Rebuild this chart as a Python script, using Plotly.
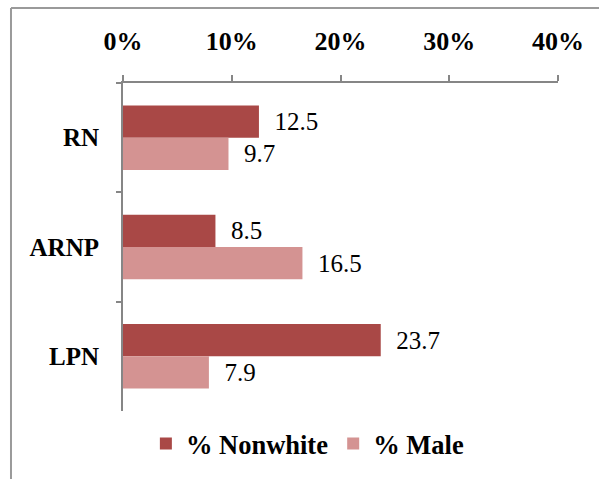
import plotly.graph_objects as go

categories = ["RN", "ARNP", "LPN"]
nonwhite = [12.5, 8.5, 23.7]
male = [9.7, 16.5, 7.9]
x_ticks = [0, 0.1, 0.2, 0.3, 0.4]

FONT = "Liberation Serif"
C1 = "#A94846"
C2 = "#D49392"
PAD = "\u00a0\u00a0"

fig = go.Figure()
fig.add_trace(go.Bar(
    y=categories, x=[v / 100 for v in nonwhite], orientation="h", name="% Nonwhite",
    marker=dict(color=C1, line=dict(width=0)),
    text=[PAD + f"{v:.1f}" for v in nonwhite], textposition="outside",
    textfont=dict(family=FONT, size=25, color="black"), cliponaxis=False,
    constraintext="none"))
fig.add_trace(go.Bar(
    y=categories, x=[v / 100 for v in male], orientation="h", name="% Male",
    marker=dict(color=C2, line=dict(width=0)),
    text=[PAD + f"{v:.1f}" for v in male], textposition="outside",
    textfont=dict(family=FONT, size=25, color="black"), cliponaxis=False,
    constraintext="none"))

fig.update_layout(
    width=599, height=479,
    margin=dict(l=123, r=41, t=83, b=68, autoexpand=False),
    paper_bgcolor="white", plot_bgcolor="white",
    barmode="group", bargap=0.41, bargroupgap=0,
    font=dict(family=FONT, size=25, color="black"),
    xaxis=dict(side="top", range=[0, 0.4], tickvals=x_ticks, tickformat=".0%",
               showgrid=False, zeroline=False, showline=True, linecolor="#868686",
               linewidth=2, ticks="outside", ticklen=6, tickcolor="#868686", tickwidth=2,
               tickfont=dict(family=FONT, size=26, weight="bold", color="black"),
               ticklabelstandoff=15, automargin=False),
    yaxis=dict(categoryorder="array", categoryarray=categories, autorange="reversed",
               showgrid=False, zeroline=False, showline=True, linecolor="#868686",
               linewidth=2, ticks="outside", ticklen=5, tickcolor="#868686", tickwidth=2,
               tickson="boundaries",
               tickfont=dict(family=FONT, size=25, weight="bold", color="black"),
               ticklabelstandoff=17, automargin=False),
    showlegend=True,
    legend=dict(orientation="h", x=0.425, xanchor="center", y=-0.027, yanchor="top",
                font=dict(family=FONT, size=26.5, weight="bold", color="black"),
                traceorder="normal"),
    shapes=[
        dict(type="line", xref="paper", yref="paper", x0=-0.2575, x1=1.2, y0=1.2287, y1=1.2287,
             line=dict(color="#9A9A9A", width=2)),
        dict(type="line", xref="paper", yref="paper", x0=-0.2575, x1=-0.2575, y0=1.2287, y1=-0.3,
             line=dict(color="#9A9A9A", width=2)),
    ],
)

fig.write_html("out.html", config={"displayModeBar": False},
               post_script="document.body.style.margin='0';")
